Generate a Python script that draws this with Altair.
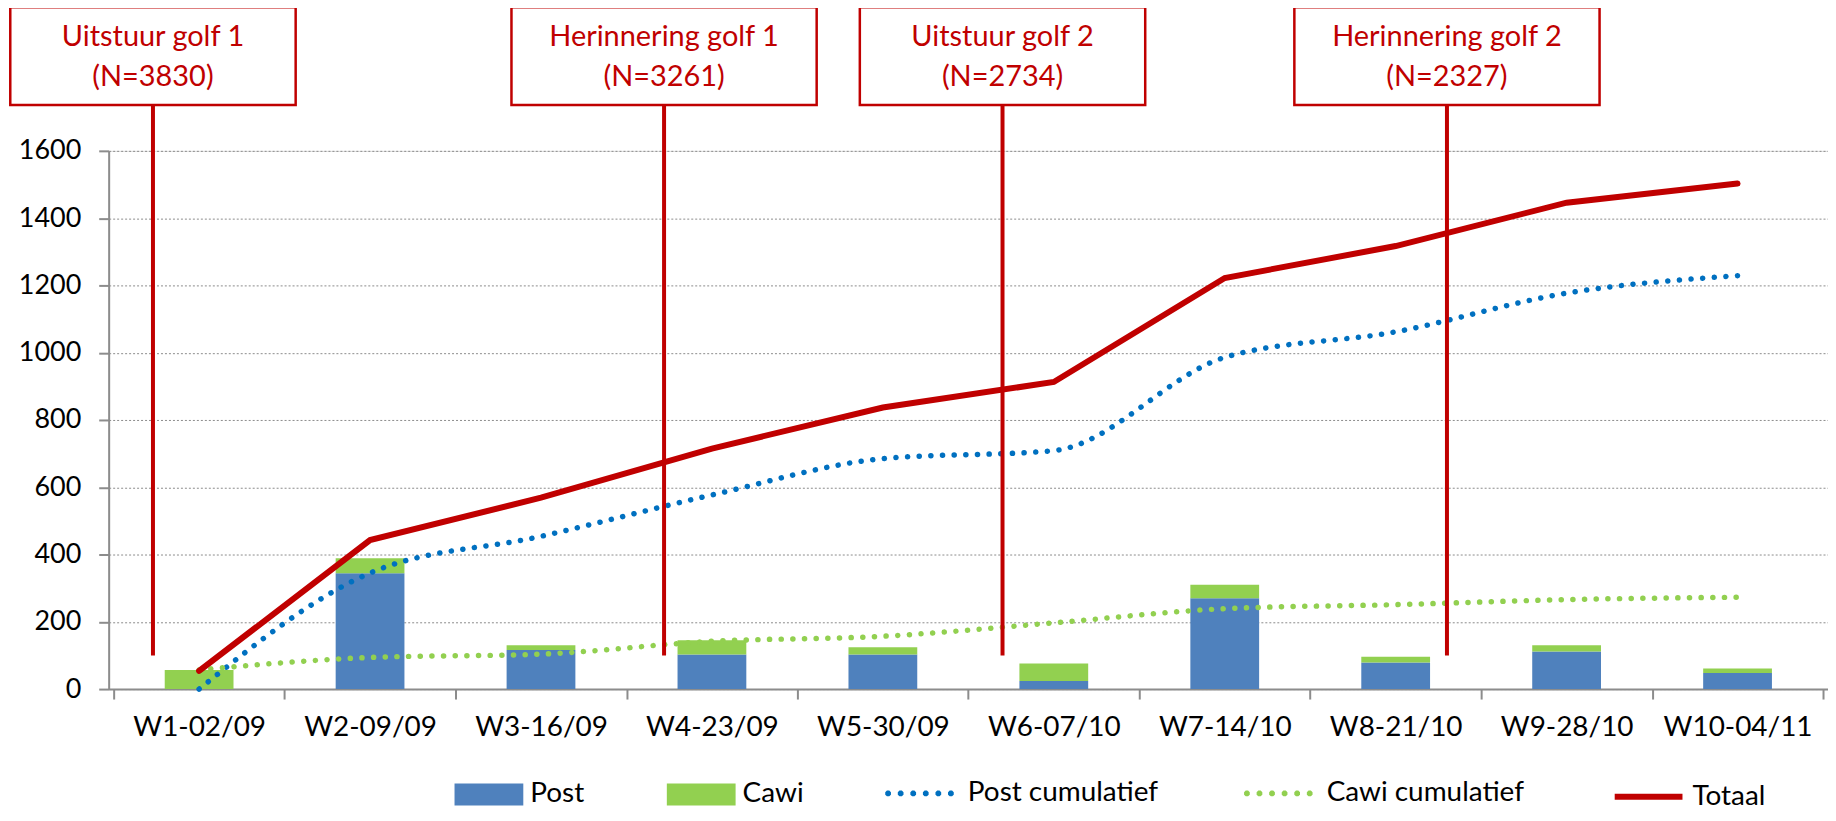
import math
import altair as alt
import pandas as pd

# ---- data ----
categories = ["W1-02/09", "W2-09/09", "W3-16/09", "W4-23/09", "W5-30/09",
              "W6-07/10", "W7-14/10", "W8-21/10", "W9-28/10", "W10-04/11"]
post = [0, 344, 116, 103, 103, 24, 270, 79, 112, 48]
cawi = [57, 45, 14, 42, 21, 52, 40, 17, 18, 13]
post_cum = [0, 345, 454, 577, 685, 709, 986, 1062, 1177, 1229]
cawi_cum = [57, 94, 104, 142, 157, 197, 239, 251, 266, 273]
totaal = [54, 443, 569, 715, 837, 913, 1222, 1317, 1446, 1503]

event_titles = ["Uitstuur golf 1", "Herinnering golf 1", "Uitstuur golf 2", "Herinnering golf 2"]
event_n = ["(N=3830)", "(N=3261)", "(N=2734)", "(N=2327)"]
event_pos = [-0.27, 2.72, 4.70, 7.30]   # position on the week axis (index units)
event_start = [100, 100, 100, 100]      # value where the marker line starts

# ---- style ----
W, H = 1725, 540
STEP = W / 10
FONT = "Lato"
RED = "#C00000"
GRAY = "#8c8c8c"
box_px = [288, 308, 288, 308]
LEG_Y = 611
LEG_FS = 28


# dotted legend symbol: six tiny octagons, made round and solid by a thick stroke
def _octagon(cx, r):
    pts = [(cx + r * math.cos(math.radians(22.5 + 45 * k)),
            r * math.sin(math.radians(22.5 + 45 * k))) for k in range(8)]
    return "M" + "L".join(f"{x:.4f},{y:.4f}" for x, y in pts) + "Z"


DOTS_PATH = "".join(_octagon(cx, 0.03) for cx in [-1.0, -0.6, -0.2, 0.2, 0.6, 1.0])

idx = list(range(len(categories)))
bars_df = pd.DataFrame({
    "i": idx * 2,
    "series": ["Post"] * 10 + ["Cawi"] * 10,
    "value": post + cawi,
    "order": [0] * 10 + [1] * 10,
})
dots_df = pd.DataFrame({
    "i": idx * 2,
    "series": ["Post cumulatief"] * 10 + ["Cawi cumulatief"] * 10,
    "value": post_cum + cawi_cum,
})
tot_df = pd.DataFrame({"i": idx, "series": ["Totaal"] * 10, "value": totaal})
ev_df = pd.DataFrame({
    "pos": event_pos,
    "title": event_titles,
    "n": event_n,
    "ystart": event_start,
    "x1": [p - b / 2 / STEP for p, b in zip(event_pos, box_px)],
    "x2": [p + b / 2 / STEP for p, b in zip(event_pos, box_px)],
})

label_arr = "[" + ",".join("'" + c + "'" for c in categories) + "]"
xaxis = alt.Axis(
    values=[k - 0.5 for k in range(11)] + idx,
    labelExpr=f"datum.value % 1 === 0 ? {label_arr}[datum.value] : ''",
    tickOpacity={"condition": {"test": "datum.value % 1 !== 0", "value": 1}, "value": 0},
    labelFlush=False, labelOverlap=False, grid=False,
    tickSize=10, tickWidth=2, tickColor=GRAY, domainColor=GRAY, domainWidth=2,
    labelFont=FONT, labelFontSize=28, labelColor="black", labelPadding=15,
    labelLimit=0, title=None,
)
xscale = alt.Scale(domain=[-0.5, 9.5], nice=False, zero=False)
yaxis = alt.Axis(
    values=list(range(0, 1601, 200)), format="d", grid=True, gridDash=[2, 2],
    gridColor=GRAY, gridWidth=1, domainColor=GRAY, domainWidth=2, tickColor=GRAY,
    tickSize=10, tickWidth=2, labelFont=FONT, labelFontSize=27, labelColor="black",
    labelPadding=18, title=None,
)
yscale = alt.Scale(domain=[0, 1600], nice=False)


def X(field):
    return alt.X(field, type="quantitative", scale=xscale, axis=xaxis, title=None)


def Y(field, **kw):
    return alt.Y(field, type="quantitative", scale=yscale, axis=yaxis, title=None, **kw)


def legend(x, **kw):
    return alt.Legend(orient="none", legendX=x, legendY=LEG_Y, direction="horizontal",
                      title=None, labelFont=FONT, labelFontSize=LEG_FS,
                      labelColor="black", labelLimit=0, **kw)


bars = alt.Chart(bars_df).mark_bar(width=STEP * 0.4).encode(
    x=X("i"),
    y=Y("value", stack="zero"),
    order=alt.Order("order:Q"),
    fill=alt.Fill("series:N",
                  scale=alt.Scale(domain=["Post", "Cawi"], range=["#4F81BD", "#92D050"]),
                  legend=legend(347, symbolType="M-1,-0.32H1V0.32H-1Z", symbolSize=4761,
                                symbolStrokeWidth=0, labelOffset=7, columnPadding=82)),
)

dots = alt.Chart(dots_df).mark_line(
    strokeDash=[0.1, 11.6], strokeCap="round", strokeWidth=5.5, interpolate="monotone"
).encode(
    x=X("i"),
    y=Y("value"),
    stroke=alt.Stroke("series:N",
                      scale=alt.Scale(domain=["Post cumulatief", "Cawi cumulatief"],
                                      range=["#0070C0", "#92D050"]),
                      legend=legend(780, symbolType=DOTS_PATH, symbolSize=3969,
                                    symbolStrokeWidth=4, labelOffset=15,
                                    columnPadding=80)),
)

tot = alt.Chart(tot_df).mark_line(strokeWidth=6, strokeCap="round").encode(
    x=X("i"),
    y=Y("value"),
    color=alt.Color("series:N",
                    scale=alt.Scale(domain=["Totaal"], range=[RED]),
                    legend=legend(1508, symbolType="stroke", symbolSize=4624,
                                  symbolStrokeWidth=6, labelOffset=7)),
)

ev_lines = alt.Chart(ev_df).mark_rule(color=RED, strokeWidth=4).encode(
    x=X("pos"),
    y=Y("ystart"),
    y2=alt.value(-46),
)

ev_boxes = alt.Chart(ev_df).mark_rect(fill="white", stroke=RED, strokeWidth=2.5).encode(
    x=X("x1"),
    x2="x2",
    y=alt.value(-144),
    y2=alt.value(-46),
)

ev_title = alt.Chart(ev_df).mark_text(
    font=FONT, fontSize=29, color=RED, align="center", baseline="alphabetic"
).encode(x=X("pos"), y=alt.value(-105), text="title:N")

ev_n = alt.Chart(ev_df).mark_text(
    font=FONT, fontSize=29, color=RED, align="center", baseline="alphabetic"
).encode(x=X("pos"), y=alt.value(-65), text="n:N")

chart = alt.layer(bars, dots, tot, ev_lines, ev_boxes, ev_title, ev_n).properties(
    width=W, height=H,
    autosize=alt.AutoSizeParams(type="none"),
    padding={"left": 101, "top": 142, "right": 0, "bottom": 120},
).configure_view(stroke=None).configure(font=FONT)

chart.save("out.html", embed_options={"renderer": "svg", "actions": False})
